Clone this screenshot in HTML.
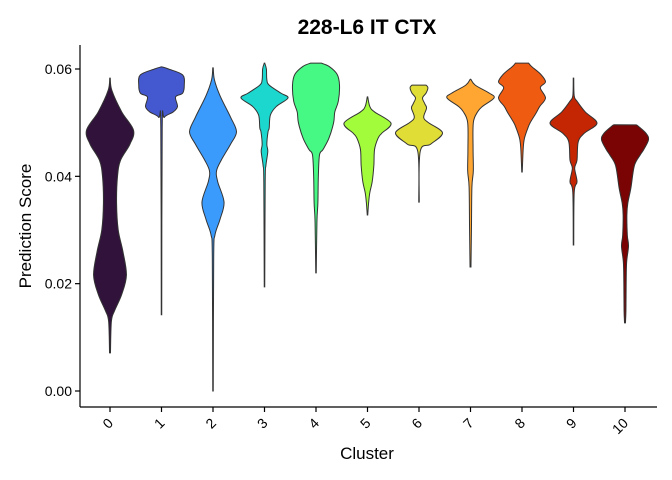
<!DOCTYPE html>
<html><head><meta charset="utf-8"><style>
body{margin:0;background:#fff}
svg{display:block;font-family:"Liberation Sans",sans-serif}
</style></head><body>
<svg id="chart" width="672" height="480" viewBox="0 0 672 480">
<text x="367" y="34" text-anchor="middle" font-size="21" font-weight="bold">228-L6 IT CTX</text>
<g id="violins"></g>
<g id="axes"></g>
<text x="367" y="459" text-anchor="middle" font-size="17">Cluster</text>
<text transform="translate(31,226) rotate(-90)" text-anchor="middle" font-size="17">Prediction Score</text>
</svg>
<script>
const categories = ["0","1","2","3","4","5","6","7","8","9","10"];
const colors = ["#30123b","#4458cf","#3b9bfd","#1bd7cd","#46f884","#a2fc3c","#e1dd37","#fea631","#f05b12","#c42503","#7a0403"];
const yTicks = [0, 0.02, 0.04, 0.06];
const yTickLabels = ["0.00","0.02","0.04","0.06"];
// density profiles: [score, relative half-width]
const d0 = [[.0583,0],[.056,.08],[.052,.5],[.0486,1],[.046,.85],[.043,.45],[.040,.32],[.035,.28],[.030,.35],[.026,.55],[.0216,.7],[.018,.5],[.015,.2],[.013,.06],[.0071,.02]];
const d1 = [[.0604,0],[.060,.3],[.0589,.9],[.057,.97],[.0555,.9],[.0548,.6],[.053,.68],[.052,.5],[.051,.12],[.049,.03],[.0142,.01]];
const d2 = [[.0602,0],[.058,.06],[.055,.3],[.051,.75],[.0483,1],[.046,.75],[.043,.35],[.041,.15],[.039,.2],[.0352,.47],[.032,.3],[.029,.08],[.025,.03],[0,.01]];
const d3 = [[.0611,0],[.060,.08],[.058,.1],[.057,.2],[.0555,.7],[.0546,1],[.053,.5],[.0514,.25],[.049,.2],[.0483,.15],[.046,.1],[.0446,.14],[.042,.06],[.039,.03],[.0194,.01]];
const d4 = [[.0611,.22],[.0605,.55],[.059,.9],[.057,1],[.054,.95],[.052,.8],[.050,.75],[.0471,.55],[.045,.3],[.044,.15],[.040,.1],[.035,.08],[.0315,.04],[.022,.01]];
const d5 = [[.0548,.01],[.053,.1],[.052,.3],[.0499,1],[.048,.6],[.0471,.45],[.045,.3],[.042,.27],[.039,.2],[.037,.1],[.0352,.05],[.0328,.01]];
const d6 = [[.057,.3],[.0565,.38],[.0555,.3],[.0546,.15],[.0535,.25],[.0527,.32],[.051,.2],[.050,.4],[.0481,1],[.046,.5],[.0446,.05],[.0352,.01]];
const d7 = [[.0581,0],[.057,.2],[.0555,.8],[.0546,1],[.053,.5],[.052,.3],[.050,.12],[.045,.11],[.041,.12],[.038,.06],[.030,.04],[.0231,.02]];
const d8 = [[.0611,.28],[.0605,.4],[.059,.8],[.0576,1],[.0565,.78],[.0546,1],[.053,.75],[.0518,.6],[.050,.35],[.049,.25],[.047,.1],[.045,.05],[.0408,.01]];
const d9 = [[.0583,.01],[.055,.03],[.054,.15],[.052,.5],[.0499,1],[.048,.45],[.0464,.2],[.043,.15],[.0415,.05],[.039,.15],[.037,.03],[.0272,.01]];
const d10 = [[.0496,.47],[.0494,.55],[.048,.9],[.0468,1],[.045,.8],[.044,.65],[.042,.4],[.0378,.25],[.035,.12],[.0328,.08],[.029,.1],[.027,.15],[.024,.07],[.020,.05],[.015,.04],[.0127,.02]];
const densities = [d0,d1,d2,d3,d4,d5,d6,d7,d8,d9,d10];

const NS="http://www.w3.org/2000/svg";
const yS = v => 391 - v/0.06*322;
const xS = i => 110 + i*51.5;
const HW = 23.5;
function smooth(pts){
  let d="M"+pts[0][0]+","+pts[0][1];
  for(let i=0;i<pts.length-1;i++){
    const p0=pts[Math.max(i-1,0)],p1=pts[i],p2=pts[i+1],p3=pts[Math.min(i+2,pts.length-1)];
    const c1=[p1[0]+(p2[0]-p0[0])/6,p1[1]+(p2[1]-p0[1])/6];
    const c2=[p2[0]-(p3[0]-p1[0])/6,p2[1]-(p3[1]-p1[1])/6];
    d+=" C"+c1[0].toFixed(2)+","+c1[1].toFixed(2)+" "+c2[0].toFixed(2)+","+c2[1].toFixed(2)+" "+p2[0].toFixed(2)+","+p2[1].toFixed(2);
  }
  return d;
}
const gv=document.getElementById("violins");
densities.forEach((dd,i)=>{
  const cx=xS(i);
  const right=dd.map(p=>[cx+Math.max(p[1]*HW,0.25),yS(p[0])]);
  const left=dd.slice().reverse().map(p=>[cx-Math.max(p[1]*HW,0.25),yS(p[0])]);
  const dr=smooth(right);
  const dl=smooth(left).replace(/^M/," L");
  const path=document.createElementNS(NS,"path");
  path.setAttribute("d",dr+dl+" Z");
  path.setAttribute("fill",colors[i]);
  path.setAttribute("stroke","#333");
  path.setAttribute("stroke-width","1");
  
  
  gv.appendChild(path);
});
const ga=document.getElementById("axes");
function line(x1,y1,x2,y2,name){
  const l=document.createElementNS(NS,"line");
  l.setAttribute("x1",x1);l.setAttribute("y1",y1);l.setAttribute("x2",x2);l.setAttribute("y2",y2);
  l.setAttribute("stroke","#000");l.setAttribute("stroke-width","1.2");
  
  
  ga.appendChild(l);
}
line(80,45,80,407,"y-axis-line");
line(80,407,657,407,"x-axis-line");
yTicks.forEach((v,i)=>{
  line(75,yS(v),80,yS(v),"y-tick");
  const t=document.createElementNS(NS,"text");
  t.setAttribute("x",72);t.setAttribute("y",yS(v)+5);
  t.setAttribute("text-anchor","end");t.setAttribute("font-size","14");
  t.textContent=yTickLabels[i];
  
  
  ga.appendChild(t);
});
categories.forEach((c,i)=>{
  const x=xS(i);
  line(x,407,x,412,"x-tick");
  const t=document.createElementNS(NS,"text");
  t.setAttribute("transform","translate("+(x+4)+",424) rotate(-45)");
  t.setAttribute("text-anchor","end");t.setAttribute("font-size","14");
  t.textContent=c;
  
  
  ga.appendChild(t);
});
</script>
</body></html>
